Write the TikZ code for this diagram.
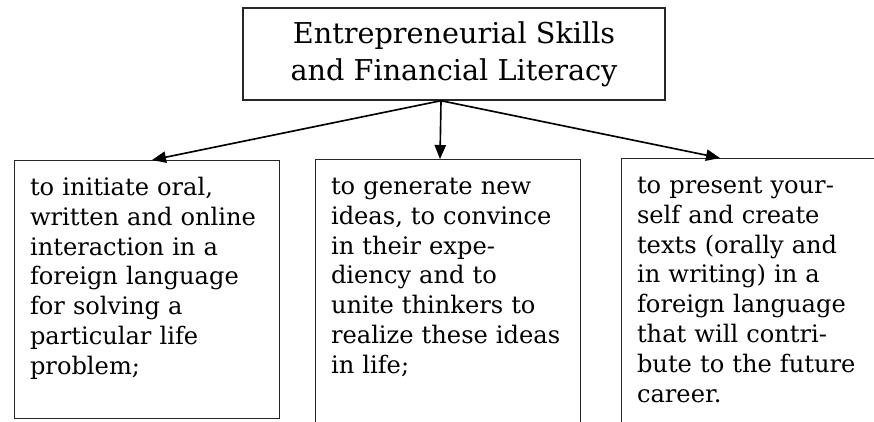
\documentclass[tikz,border=0pt]{standalone}
\usepackage{fontspec}
\setmainfont{DejaVu Serif}
\usetikzlibrary{arrows.meta}
\tikzset{
  goalbox/.style={draw=black!85, line width=1.2pt, align=center, inner sep=0pt,
    minimum width=12.66cm, minimum height=2.76cm, font=\fontsize{24.5}{31.6}\selectfont},
  leafbox/.style={draw=black!85, line width=1.2pt, anchor=north west, align=left,
    inner xsep=0.46cm, inner ysep=0.18cm, text width=7.03cm,
    text height=0.87cm, text depth=6.51cm, font=\fontsize{20.6}{25.4}\selectfont},
  link/.style={line width=1.4pt, -{Triangle[length=0.42cm,width=0.34cm]}}
}
\begin{document}
\begin{tikzpicture}[x=0.03cm,y=-0.03cm]
  \useasboundingbox (0,0) rectangle (874,421);
  \node[goalbox] (goal) at (454,54) {Entrepreneurial Skills\\and Financial Literacy};

  \node[leafbox] (initiate) at (14,160) {to initiate oral,\\written and online\\interaction in a\\foreign language\\for solving a\\particular life\\problem;};
  \node[leafbox, text depth=8cm] (generate) at (315,159) {to generate new\\ideas, to convince\\in their expe-\\diency and to\\unite thinkers to\\realize these ideas\\in life;};
  \node[leafbox, text depth=8cm, text width=9cm] (present) at (621,158) {to present your-\\self and create\\texts (orally and\\in writing) in a\\foreign language\\that will contri-\\bute to the future\\career.};

  \coordinate (fork) at ([xshift=-0.39cm]goal.south);
  \draw[link] (fork) -- ([xshift=4.14cm]initiate.north west);
  \draw[link] (fork) -- ([xshift=3.75cm]generate.north west);
  \draw[link] (fork) -- ([xshift=2.97cm]present.north west);
\end{tikzpicture}
\end{document}
